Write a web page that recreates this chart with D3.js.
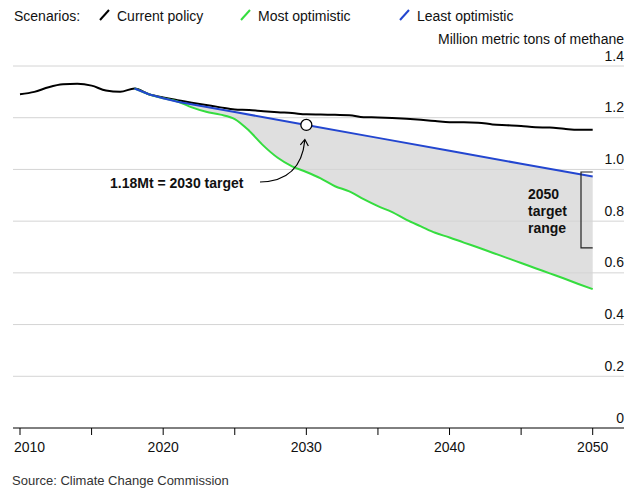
<!DOCTYPE html>
<html><head><meta charset="utf-8">
<script src="https://cdn.jsdelivr.net/npm/d3@7"></script>
<style>
body{margin:0;background:#fff;}
text{font-family:"Liberation Sans",Arial,sans-serif;}
</style></head>
<body><svg id="c" width="633" height="497"></svg>
<script>
const currentYears = [2010,2011,2012,2013,2014,2015,2016,2017,2018,2019,2020,2021,2022,2023,2024,2025,2026,2027,2028,2029,2030,2031,2032,2033,2034,2035,2036,2037,2038,2039,2040,2041,2042,2043,2044,2045,2046,2047,2048,2049,2050];
const currentPolicy = [1.291,1.300,1.318,1.329,1.331,1.324,1.305,1.300,1.313,1.291,1.278,1.268,1.258,1.249,1.240,1.232,1.230,1.225,1.221,1.218,1.213,1.212,1.211,1.210,1.202,1.201,1.199,1.196,1.192,1.187,1.182,1.182,1.181,1.174,1.171,1.168,1.163,1.162,1.157,1.153,1.153];
const leastYears = [2018,2019,2020,2021,2025,2030,2035,2040,2045,2050];
const leastOptimistic = [1.313,1.291,1.275,1.262,1.222,1.172,1.122,1.072,1.022,0.973];
const mostYears = [2018,2019,2020,2021,2022,2023,2024,2025,2026,2027,2028,2029,2030,2031,2032,2033,2034,2035,2036,2037,2038,2039,2040,2041,2042,2043,2044,2045,2046,2047,2048,2049,2050];
const mostOptimistic = [1.313,1.291,1.275,1.263,1.240,1.223,1.212,1.195,1.150,1.092,1.045,1.012,0.990,0.965,0.935,0.915,0.885,0.858,0.835,0.805,0.780,0.755,0.737,0.717,0.698,0.678,0.658,0.638,0.618,0.598,0.578,0.557,0.537];
const yTicks = [0,0.2,0.4,0.6,0.8,1.0,1.2,1.4];
const xTicks = [2010,2015,2020,2025,2030,2035,2040,2045,2050];
const xLabels = [2010,2020,2030,2040,2050];
const target2030 = {year:2030, value:1.172, label:"1.18Mt = 2030 target"};
const targetRange2050 = [0.697, 0.99];
const legendItems = [
  {name:"Current policy", color:"#000000", x:100},
  {name:"Most optimistic", color:"#35dd3f", x:241},
  {name:"Least optimistic", color:"#2346d0", x:400}
];

const svg = d3.select("#c");
const x = d3.scaleLinear().domain([2010,2050]).range([20,592.7]);
const y = d3.scaleLinear().domain([0,1.4]).range([428,66]);

// legend
svg.append("text").attr("x",14).attr("y",21).attr("font-size",14).attr("fill","#111").text("Scenarios:");
legendItems.forEach(d=>{
  svg.append("line").attr("x1",d.x).attr("y1",20).attr("x2",d.x+9).attr("y2",10)
    .attr("stroke",d.color).attr("stroke-width",2);
  svg.append("text").attr("x",d.x+17).attr("y",21).attr("font-size",14).attr("fill","#111").text(d.name);
});

svg.append("text").attr("x",624).attr("y",44).attr("text-anchor","end").attr("font-size",14).attr("fill","#111")
  .text("Million metric tons of methane");

// area between scenarios
const leastLine = d3.scaleLinear().domain(leastYears).range(leastOptimistic);
const areaData = mostYears.map((yr,i)=>({year:yr, lo:mostOptimistic[i], hi:leastLine(yr)}));
svg.append("path").datum(areaData)
  .attr("d", d3.area().x(d=>x(d.year)).y0(d=>y(d.lo)).y1(d=>y(d.hi)).curve(d3.curveMonotoneX))
  .attr("fill","#dfdfdf");

// gridlines
yTicks.filter(v=>v>0).forEach(v=>{
  svg.append("line").attr("x1",13).attr("x2",624).attr("y1",y(v)).attr("y2",y(v))
    .attr("stroke","#d4d4d4").attr("stroke-width",1);
});
yTicks.forEach(v=>{
  svg.append("text").attr("x",624).attr("y",y(v)-5.5).attr("text-anchor","end")
    .attr("font-size",14).attr("fill","#111").text(v===0?"0":v.toFixed(1));
});

// x axis
const ax = svg.append("g").attr("transform","translate(0,428)");
ax.append("line").attr("x1",13).attr("x2",624).attr("stroke","#000").attr("stroke-width",1);
xTicks.forEach(t=>{
  ax.append("line").attr("x1",x(t)).attr("x2",x(t)).attr("y1",0).attr("y2",7).attr("stroke","#000").attr("stroke-width",1);
});
xLabels.forEach((t,i)=>{
  ax.append("text").attr("x", i===0 ? 14 : x(t)).attr("y",24)
    .attr("text-anchor", i===0 ? "start" : "middle").attr("font-size",14).attr("fill","#111").text(t);
});

// lines
const line = d3.line().x(d=>x(d[0])).y(d=>y(d[1])).curve(d3.curveMonotoneX);
svg.append("path").datum(currentYears.map((yr,i)=>[yr,currentPolicy[i]]))
  .attr("d",line).attr("fill","none").attr("stroke",legendItems[0].color).attr("stroke-width",2);
svg.append("path").datum(mostYears.map((yr,i)=>[yr,mostOptimistic[i]]))
  .attr("d",line).attr("fill","none").attr("stroke",legendItems[1].color).attr("stroke-width",2);
svg.append("path").datum(leastYears.map((yr,i)=>[yr,leastOptimistic[i]]))
  .attr("d",d3.line().x(d=>x(d[0])).y(d=>y(d[1]))).attr("fill","none").attr("stroke",legendItems[2].color).attr("stroke-width",2);

// 2030 target marker
const cx = x(target2030.year), cy = y(target2030.value);
svg.append("circle").attr("cx",cx).attr("cy",cy).attr("r",5.5).attr("fill","#fff").attr("stroke","#000").attr("stroke-width",1.3);
svg.append("text").attr("x",110).attr("y",188).attr("font-size",14).attr("font-weight","bold").attr("fill","#111")
  .text(target2030.label);
svg.append("path").attr("d",`M260,182 Q301,181 ${cx-1.5},${cy+15}`).attr("fill","none").attr("stroke","#000").attr("stroke-width",1.2);
svg.append("path").attr("d",`M${cx-6},${cy+20} L${cx-1.5},${cy+14.5} L${cx+2},${cy+21}`).attr("fill","none").attr("stroke","#000").attr("stroke-width",1.2);

// 2050 target range bracket
const bx = 581, bx2 = x(2050);
svg.append("path").attr("d",`M${bx2},${y(targetRange2050[1])} H${bx} V${y(targetRange2050[0])} H${bx2}`)
  .attr("fill","none").attr("stroke","#222").attr("stroke-width",1.2);
["2050","target","range"].forEach((s,i)=>{
  svg.append("text").attr("x",528).attr("y",199+i*17).attr("font-size",14).attr("font-weight","bold").attr("fill","#111").text(s);
});

// source
svg.append("text").attr("x",12).attr("y",485).attr("font-size",13).attr("fill","#333").text("Source: Climate Change Commission");
</script></body></html>
